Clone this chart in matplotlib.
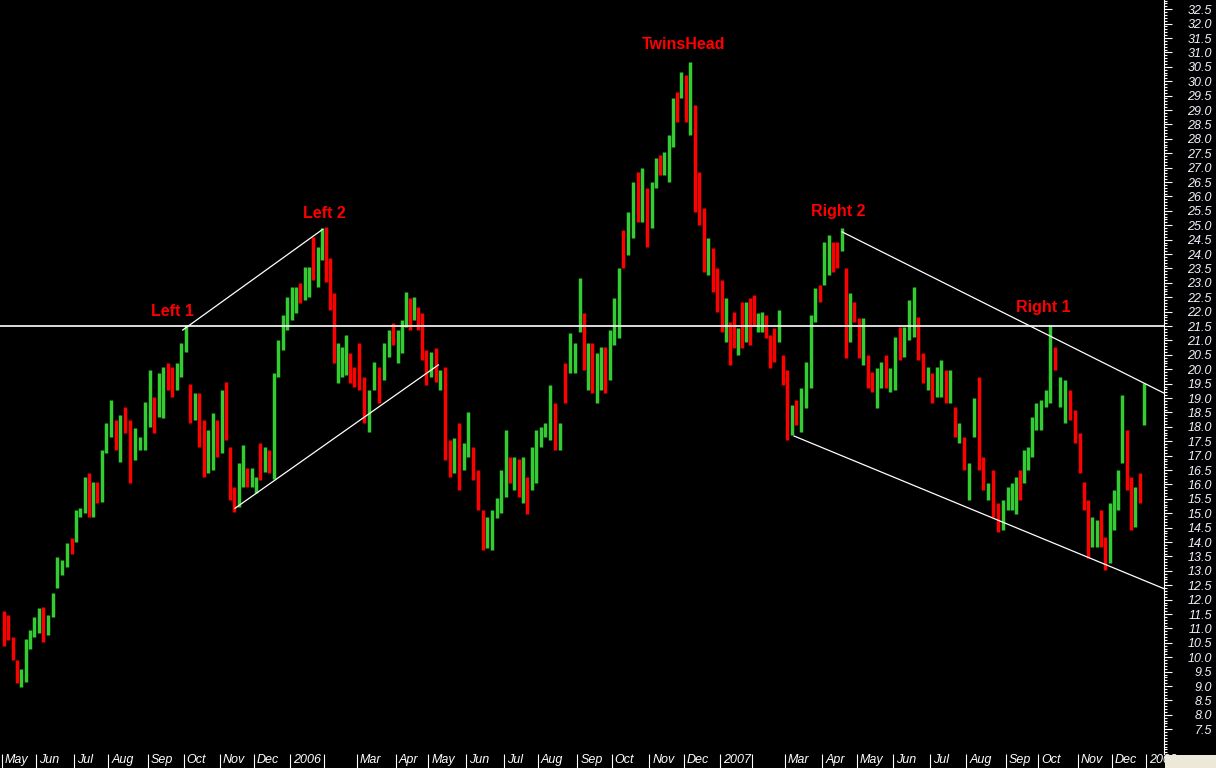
import numpy as np
import matplotlib
matplotlib.use("Agg")
import matplotlib.pyplot as plt
from matplotlib.ticker import MultipleLocator
from matplotlib.transforms import ScaledTranslation
from matplotlib.patches import Rectangle

plt.rcParams['font.family'] = ['Liberation Sans', 'DejaVu Sans']

# 月ラベル（2月は表示なし）
month_labels = ['May', 'Jun', 'Jul', 'Aug', 'Sep', 'Oct', 'Nov', 'Dec',
                '2006', '', 'Mar', 'Apr', 'May', 'Jun', 'Jul', 'Aug', 'Sep', 'Oct', 'Nov', 'Dec',
                '2007', '', 'Mar', 'Apr', 'May', 'Jun', 'Jul', 'Aug', 'Sep', 'Oct', 'Nov', 'Dec',
                '2008']

# 各月の取引日数
sessions = [20, 22, 20, 23, 21, 21, 20, 21,
            20, 19, 23, 19, 22, 22, 20, 23, 20, 22, 20, 21,
            19, 19, 22, 20, 21, 22, 21, 23, 19, 23, 20, 20]

# 各月8本のバー（高値・安値・陽線/陰線）
highs = [
    11.6, 11.45, 10.7, 9.9, 9.6, 10.65, 10.95, 11.4,        # 2005-05
    11.7, 11.75, 11.47, 12.22, 13.49, 13.37, 13.95, 14.13,  # 06
    15.11, 15.17, 16.27, 16.38, 16.1, 16.1, 17.19, 18.12,   # 07
    18.93, 18.24, 18.41, 18.7, 18.24, 17.95, 17.66, 18.87,  # 08
    19.97, 19.05, 19.86, 20.09, 20.2, 20.09, 20.2, 20.9,    # 09
    21.55, 19.5, 19.16, 19.16, 18.24, 17.89, 18.47, 18.24,  # 10
    19.28, 19.57, 17.31, 15.92, 16.73, 17.37, 16.56, 16.56, # 11
    16.27, 17.43, 17.31, 17.19, 19.86, 21.01, 21.88, 22.52, # 12
    22.87, 22.87, 22.98, 23.56, 23.56, 24.6, 24.25, 24.89,  # 2006-01
    24.95, 23.85, 22.63, 20.9, 20.78, 21.19, 20.55, 20.09,  # 02
    20.9, 19.74, 19.28, 20.26, 20.09, 20.9, 21.36, 21.59,   # 03
    21.36, 21.71, 22.69, 22.46, 22.52, 22.17, 21.94, 20.67, # 04
    20.61, 20.72, 19.97, 20.09, 17.54, 17.6, 18.12, 17.43,  # 05
    18.52, 17.31, 16.5, 15.11, 14.88, 15.11, 15.52, 16.5,   # 06
    17.89, 16.96, 16.96, 16.9, 16.96, 16.27, 17.31, 17.89,  # 07
    18.0, 18.12, 19.45, 18.82, 18.12, 20.2, 21.25, 20.9,    # 08
    23.16, 21.94, 20.9, 20.9, 20.55, 20.78, 20.78, 21.36,   # 09
    22.46, 23.5, 24.83, 25.47, 26.51, 26.86, 26.98, 26.28,  # 10
    26.51, 27.32, 27.44, 27.55, 28.13, 29.4, 29.64, 30.33,  # 11
    30.22, 30.68, 29.17, 26.86, 25.59, 24.54, 24.2, 23.5,   # 12
    23.1, 22.46, 21.65, 22.0, 21.42, 22.34, 22.34, 22.46,   # 2007-01
    22.58, 21.94, 22.0, 21.88, 21.19, 21.42, 22.05, 20.49,  # 02
    19.97, 18.76, 18.93, 19.34, 20.26, 21.88, 22.81, 22.92, # 03
    24.43, 24.66, 24.43, 24.43, 24.9, 23.5, 22.63, 22.34,   # 04
    21.77, 21.77, 20.49, 19.91, 20.03, 20.26, 20.49, 20.03, # 05
    21.13, 21.48, 21.48, 22.4, 22.86, 21.82, 20.55, 20.09,  # 06
    19.86, 20.09, 20.32, 19.97, 19.97, 18.7, 18.12, 17.66,  # 07
    16.73, 18.99, 19.74, 16.96, 16.04, 16.5, 15.34, 15.46,  # 08
    15.92, 16.04, 16.27, 16.5, 17.19, 17.31, 18.35, 18.81,  # 09
    18.93, 19.28, 21.53, 20.78, 19.74, 19.62, 19.28, 18.58, # 10
    17.77, 16.09, 15.46, 14.88, 14.76, 15.11, 14.18, 15.34, # 11
    15.8, 16.5, 19.1, 17.89, 16.27, 15.92, 16.38, 19.51,    # 12
]
lows = [
    10.4, 10.6, 9.9, 9.1, 8.98, 9.15, 10.3, 10.7,
    10.83, 10.54, 10.77, 11.4, 12.39, 12.85, 13.14, 13.6,
    14.01, 14.88, 15.0, 14.88, 14.88, 15.34, 15.4, 17.08,
    17.66, 17.19, 16.79, 17.77, 16.04, 16.85, 17.19, 17.19,
    18.0, 17.77, 18.35, 18.29, 19.28, 19.05, 19.28, 19.74,
    20.6, 18.12, 18.24, 17.31, 16.27, 16.38, 16.5, 16.96,
    17.08, 17.54, 15.46, 15.05, 15.23, 15.92, 15.92, 15.92,
    15.69, 16.15, 16.44, 16.38, 16.2, 19.74, 20.67, 21.36,
    21.71, 21.94, 22.29, 22.4, 22.52, 23.1, 22.87, 23.79,
    23.04, 22.05, 20.2, 19.51, 19.74, 19.8, 19.51, 19.39,
    19.28, 18.12, 17.83, 19.28, 18.82, 19.63, 20.43, 20.84,
    20.2, 20.55, 21.48, 21.36, 21.71, 21.36, 20.32, 19.45,
    19.74, 19.57, 19.28, 16.85, 16.27, 16.38, 15.8, 16.5,
    16.96, 16.15, 15.11, 13.72, 13.78, 13.72, 14.82, 15.0,
    15.57, 16.04, 15.8, 15.57, 15.34, 14.99, 15.8, 16.04,
    17.31, 17.66, 17.54, 17.2, 17.2, 18.82, 19.86, 19.86,
    21.3, 19.97, 19.28, 19.16, 18.82, 19.28, 19.16, 19.63,
    20.84, 21.07, 23.5, 23.97, 24.54, 25.12, 25.12, 24.25,
    24.89, 26.28, 26.74, 26.74, 26.51, 27.73, 28.6, 29.4,
    28.6, 28.13, 25.47, 25.01, 23.39, 23.27, 22.69, 22.0,
    21.3, 20.96, 20.15, 20.72, 20.49, 20.72, 20.96, 20.84,
    21.53, 21.3, 21.3, 21.07, 20.03, 20.26, 20.96, 19.45,
    17.54, 17.72, 18.06, 17.83, 18.64, 19.34, 21.65, 22.34,
    22.92, 23.27, 23.39, 23.5, 24.1, 20.38, 20.96, 21.65,
    20.38, 20.15, 19.34, 19.22, 18.64, 19.34, 19.34, 19.22,
    19.28, 20.32, 20.43, 21.01, 21.13, 20.32, 19.51, 19.28,
    18.81, 19.04, 19.04, 18.81, 18.81, 17.66, 17.43, 16.5,
    15.46, 17.66, 16.5, 15.8, 15.46, 14.88, 14.36, 14.41,
    15.11, 15.11, 14.99, 15.46, 16.04, 16.5, 16.96, 17.89,
    17.89, 18.7, 18.81, 19.97, 18.7, 18.12, 18.24, 17.43,
    16.38, 15.11, 13.43, 13.84, 13.84, 13.84, 13.03, 13.26,
    14.41, 15.11, 16.73, 15.8, 14.41, 14.53, 15.34, 18.06,
]
updown = ("RRRRGGGG" "GRGGGGGR" "GGGRGRGG" "GRGRRGGG" "GRGGRRGG" "GRGRRGGR" "GRRRGGRG" "GRGRGGGG"
          "GGRGGRGG" "RRRGGGRR" "RRGGRGGR" "GGGRGRRR" "GRGRRGRG" "GRRRGGGG" "GRGRGRGG" "GGGRGRGG"
          "GRGRGGRG" "GGRGGRGR" "GGRGGGRG" "RGRRRGRR"
          "RGRRGRGR" "RGGRRRGR" "RGRGGGGR" "GGRRGRGR" "RGRRGGRG" "GRGGGRRG" "RGGRGRGR" "GGRRGRRG"
          "GGGRGGGG" "GGGRGGRR" "RRRGGRRG" "GGGRRGRG")

# 水平線とトレンドライン（取引日インデックス, 価格）
neckline = 21.5
trend_lines = [
    ((105.5, 21.36), (187.3, 24.86)),
    ((136.0, 15.17), (254.8, 20.15)),
    ((490.5, 24.77), (678.5, 19.17)),
    ((462.5, 17.68), (678.5, 12.38)),
]

# 注記ラベル（取引日インデックス, 価格）
notes = ['Left 1', 'Left 2', 'TwinsHead', 'Right 2', 'Right 1']
note_x = [99.6, 188.0, 398.2, 488.3, 608.3]
note_y = [22.0, 25.39, 31.26, 25.48, 22.15]

GREEN = '#33CC33'
RED = '#FF0000'

bars_per_month = 8
starts = np.concatenate([[0], np.cumsum(sessions)])
xs = []
for s, n in zip(starts[:-1], sessions):
    xs.extend(s + (np.arange(bars_per_month) + 0.5) * n / bars_per_month)
xs = np.array(xs)
highs = np.array(highs)
lows = np.array(lows)
up = np.array([c == 'G' for c in updown])

fig = plt.figure(figsize=(12.16, 7.68), dpi=100, facecolor='black')
ax = fig.add_axes([0, 14 / 768, 1164 / 1216, 754 / 768], facecolor='black')

ax.vlines(xs[up], lows[up], highs[up], colors=GREEN, linewidth=2.5)
ax.vlines(xs[~up], lows[~up], highs[~up], colors=RED, linewidth=2.5)

ax.axhline(neckline, color='white', linewidth=1.2)
for (x0, y0), (x1, y1) in trend_lines:
    ax.plot([x0, x1], [y0, y1], color='white', linewidth=0.9)

for label, x, y in zip(notes, note_x, note_y):
    ax.text(x, y, label, color=RED, fontsize=11.5, fontweight='bold',
            ha='center', va='center')

ax.set_xlim(-1.17, 678.5)
ax.set_ylim(6.64, 32.82)

for side in ['left', 'top', 'bottom']:
    ax.spines[side].set_visible(False)
ax.spines['right'].set_color('white')
ax.spines['right'].set_linewidth(0.8)

# 価格軸（右）
ax.yaxis.tick_right()
yvals = np.arange(7.5, 32.51, 0.5)
ax.set_yticks(yvals, [f'{v:.1f}' for v in yvals], fontstyle='italic',
              fontsize=9, color='#F2F4FF', ha='right')
ax.yaxis.set_minor_locator(MultipleLocator(0.1))
ax.tick_params(axis='y', which='major', length=5.8, width=0.8, color='white',
               direction='out', pad=28.8)
ax.tick_params(axis='y', which='minor', length=2.4, width=0.8, color='white',
               direction='out')

# 日付軸（下）
ax.set_xticks(starts, month_labels, fontstyle='italic', fontsize=9,
              color='white', ha='left')
ax.tick_params(axis='x', which='major', length=10.1, width=0.8, color='white',
               direction='out', pad=-9.8)
offset = ScaledTranslation(3 / 100, 0, fig.dpi_scale_trans)
for lbl in ax.get_xticklabels():
    lbl.set_transform(lbl.get_transform() + offset)

fig.add_artist(Rectangle((1165 / 1216, 0), 51 / 1216, 13 / 768,
                         transform=fig.transFigure, facecolor='#ECE9D8',
                         edgecolor='none', zorder=5))

fig.savefig('out.png', dpi=100, facecolor='black')
